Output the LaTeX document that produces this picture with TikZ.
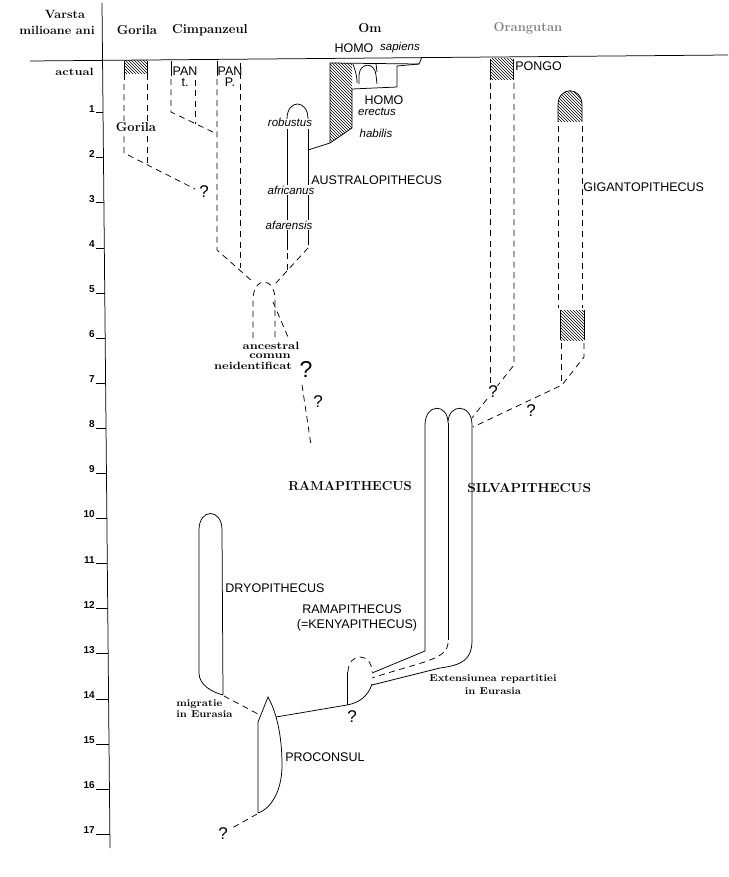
\documentclass[tikz,border=0pt]{standalone}
\usepackage{fontspec}
\setsansfont{Liberation Sans}
\usepackage{graphicx}
\usetikzlibrary{patterns,positioning}
\definecolor{orgrey}{gray}{0.5}
\newcommand{\wbf}[2][1.2]{\scalebox{#1}[1]{\bfseries #2}}

\begin{document}
\begin{tikzpicture}[x=1pt,y=-1pt,line width=0.75pt,
    dsh/.style={dash pattern=on 6pt off 4.5pt},
    hatch/.style={pattern=north west lines},
    hd/.style={font=\fontsize{13}{13}\selectfont,inner sep=0pt},
    axl/.style={font=\fontsize{12}{12}\selectfont,inner sep=0pt},
    sml/.style={font=\fontsize{10.5}{9}\selectfont,inner sep=0pt},
    lab/.style={font=\sffamily\fontsize{12.5}{11}\selectfont,inner sep=1pt},
    ita/.style={font=\sffamily\itshape\fontsize{11.5}{10}\selectfont,inner sep=1pt},
    qm/.style={font=\sffamily\fontsize{17}{17}\selectfont,inner sep=0pt},
    tck/.style={font=\sffamily\bfseries\fontsize{10}{10}\selectfont,anchor=east,inner sep=0pt}]
  \useasboundingbox (0,0) rectangle (728,877);

  \draw (30,61) -- (728,55);
  \draw (102,3) -- (110,848);
  \node[axl] (vst) at (65,14) {\wbf[1.05]{Varsta}};
  \node[axl] (mil) at (57,30) {\wbf[1.05]{milioane ani}};
  \node[sml,anchor=east] (act) at (94,72) {\wbf{actual}};
  \foreach \n in {1,...,17} {
    \pgfmathsetmacro\yy{63.5+45.1*\n}
    \node[tck] (t\n) at (95,\yy) {\n};
    \draw (96,\yy+4) -- ({102+8*(\yy+1)/845},\yy+4);
  }

  \node[hd] (gorh) at (137,30) {\wbf[1]{Gorila}};
  \node[hd] (cimh) at (210,30) {\wbf[1]{Cimpanzeul}};
  \node[hd] (omh) at (370,28) {\wbf[1]{Om}};
  \node[hd,text=orgrey] (orh) at (528,28) {\wbf[1]{Orangutan}};

  \path[hatch] (124,61) rectangle (147,74);
  \draw (124,61) -- (124,80) (147,61) -- (147,80);
  \draw[dsh] (124,84) -- (124,153) -- (195,189);
  \draw[dsh] (147,84) -- (147,165);
  \node[qm] (qgor) at (204,192) {?};
  \node[hd,fill=white,inner sep=1pt] (gor) at (136,127) {\wbf[1]{Gorila}};

  \draw (171,61) -- (171,76) (217,61) -- (217,76);
  \draw[dsh] (171,79) -- (171,112) -- (217,134);
  \draw[dsh] (195,80) -- (195,124);
  \draw[dsh] (217,79) -- (217,250) -- (252,281);
  \draw[dsh] (240,63) -- (240,268);
  \node[lab,align=center] (pant) at (185,77) {PAN\\t.};
  \node[lab,align=center] (panp) at (230,77) {PAN\\P.};

  \draw (287,119) .. controls (287,99) and (308,99) .. (308,119);
  \draw (287,129) -- (287,250) (308,129) -- (308,245);
  \draw[dsh] (287,253) -- (287,272);
  \draw[dsh] (308,248) -- (276,283);
  \node[ita] (rob) at (290,122) {robustus};
  \node[ita,fill=white] (afr) at (291,190) {africanus};
  \node[ita,fill=white] (afa) at (289,225) {afarensis};
  \node[lab,anchor=west] (aus) at (310,180) {AUSTRALOPITHECUS};

  \path[hatch] (330,63) -- (352,63) -- (352,128) -- (330,143) -- cycle;
  \draw (308,150) -- (330,143) -- (352,128) -- (352,89) -- (397,87) -- (397,66) -- (419,64) -- (422,57);
  \draw (330,143) -- (330,63) -- (419,64);
  \draw (353,64) .. controls (355,70) and (357,75) .. (357,83);
  \draw (359,84) -- (359,75) .. controls (360,62) and (375,62) .. (376,75) -- (377,84);
  \draw (376,64) -- (377,72);
  \node[lab] (homo) at (354,48) {HOMO};
  \node[ita,right=4pt of homo] (sap) {sapiens};
  \node[lab] (homo2) at (384,100) {HOMO};
  \node[ita] (ere) at (377,112) {erectus};
  \node[ita] (hab) at (376,133) {habilis};

  \path[hatch] (490,59) rectangle (513,80);
  \draw (490,59) -- (490,80) (513,59) -- (513,80);
  \draw[dsh] (490,83) -- (490,383);
  \draw[dsh] (514,83) -- (514,365) -- (472,418);
  \node[qm,fill=white,inner sep=0.5pt] (qpon) at (493,392) {?};
  \node[lab,anchor=west] (pon) at (514,66) {PONGO};

  \path[hatch] (558,122) -- (558,105) .. controls (558,86) and (582,86) .. (582,105) -- (582,122) -- cycle;
  \draw (558,122) -- (558,105) .. controls (558,86) and (582,86) .. (582,105) -- (582,122);
  \draw[dsh] (558,126) -- (558,308) (582,126) -- (582,308);
  \path[hatch] (560,310) rectangle (584,340);
  \draw (560,310) -- (560,340) (584,310) -- (584,340);
  \draw[dsh] (561,343) -- (561,383);
  \draw[dsh] (584,343) -- (584,357) -- (562,385) -- (473,427);
  \node[qm] (qgig) at (531,411) {?};
  \node[lab,anchor=west] (gig) at (582,187) {GIGANTOPITHECUS};

  \draw[dsh] (253,338) -- (253,300) .. controls (253,276) and (275,276) .. (275,300) -- (275,338);
  \draw[dsh] (273,302) -- (288,337);
  \node[sml] (anc) at (271,346) {\wbf{ancestral}};
  \node[sml] (com) at (270,356) {\wbf{comun}};
  \node[sml] (neid) at (253,366) {\wbf{neidentificat}};
  \node[qm,font=\sffamily\fontsize{23}{23}\selectfont] (qanc) at (306,369) {?};
  \draw[dsh] (302,385) -- (311,445);
  \node[qm] (qanc2) at (318,402) {?};

  \node[hd] (ram) at (350,486) {\wbf[1]{RAMAPITHECUS}};
  \node[hd,anchor=west] (sil) at (467,488) {\wbf[1.05]{SILVAPITHECUS}};

  \draw (372,673) -- (425,651) -- (425,425) .. controls (425,403) and (448,403) .. (448,423)
    .. controls (448,403) and (472,403) .. (472,425) -- (472,640)
    .. controls (472,660) and (462,665) .. (440,668) -- (372,685);
  \draw (448,423) -- (448,640);
  \draw[dsh] (448,643) .. controls (447,660) and (420,662) .. (372,678);
  \draw[dsh] (348,672) .. controls (348,652) and (372,652) .. (372,672);
  \draw (347,672) -- (347,705);
  \draw (372,684) .. controls (368,697) and (358,703) .. (347,705) -- (276,717);
  \node[qm] (qken) at (352,717) {?};
  \node[lab] (ram2) at (352,609) {RAMAPITHECUS};
  \node[lab] (ken) at (357,625) {(=KENYAPITHECUS)};
  \node[sml,align=center,font=\fontsize{10}{13}\selectfont] (ext) at (493,685)
    {\wbf[1.1]{Extensiunea repartitiei}\\\wbf[1.1]{in Eurasia}};

  \draw (223,695) -- (222,530) .. controls (222,508) and (199,508) .. (199,530) -- (199,673)
    .. controls (199,685) and (212,692) .. (223,695);
  \draw[dsh] (224,696) -- (258,714);
  \node[lab,anchor=west] (dry) at (224,588) {DRYOPITHECUS};
  \node[sml,align=left,anchor=west,font=\fontsize{10}{11}\selectfont] (mig) at (176,709)
    {\wbf[1.1]{migratie}\\\wbf[1.1]{in Eurasia}};

  \draw (258,813) -- (258,722) -- (268,697) .. controls (278,715) and (282,740) .. (282,765)
    .. controls (282,795) and (268,810) .. (258,813);
  \draw[dsh] (257,814) -- (232,828);
  \node[qm] (qpro) at (223,834) {?};
  \node[lab,anchor=west] (pro) at (284,757) {PROCONSUL};
\end{tikzpicture}
\end{document}
